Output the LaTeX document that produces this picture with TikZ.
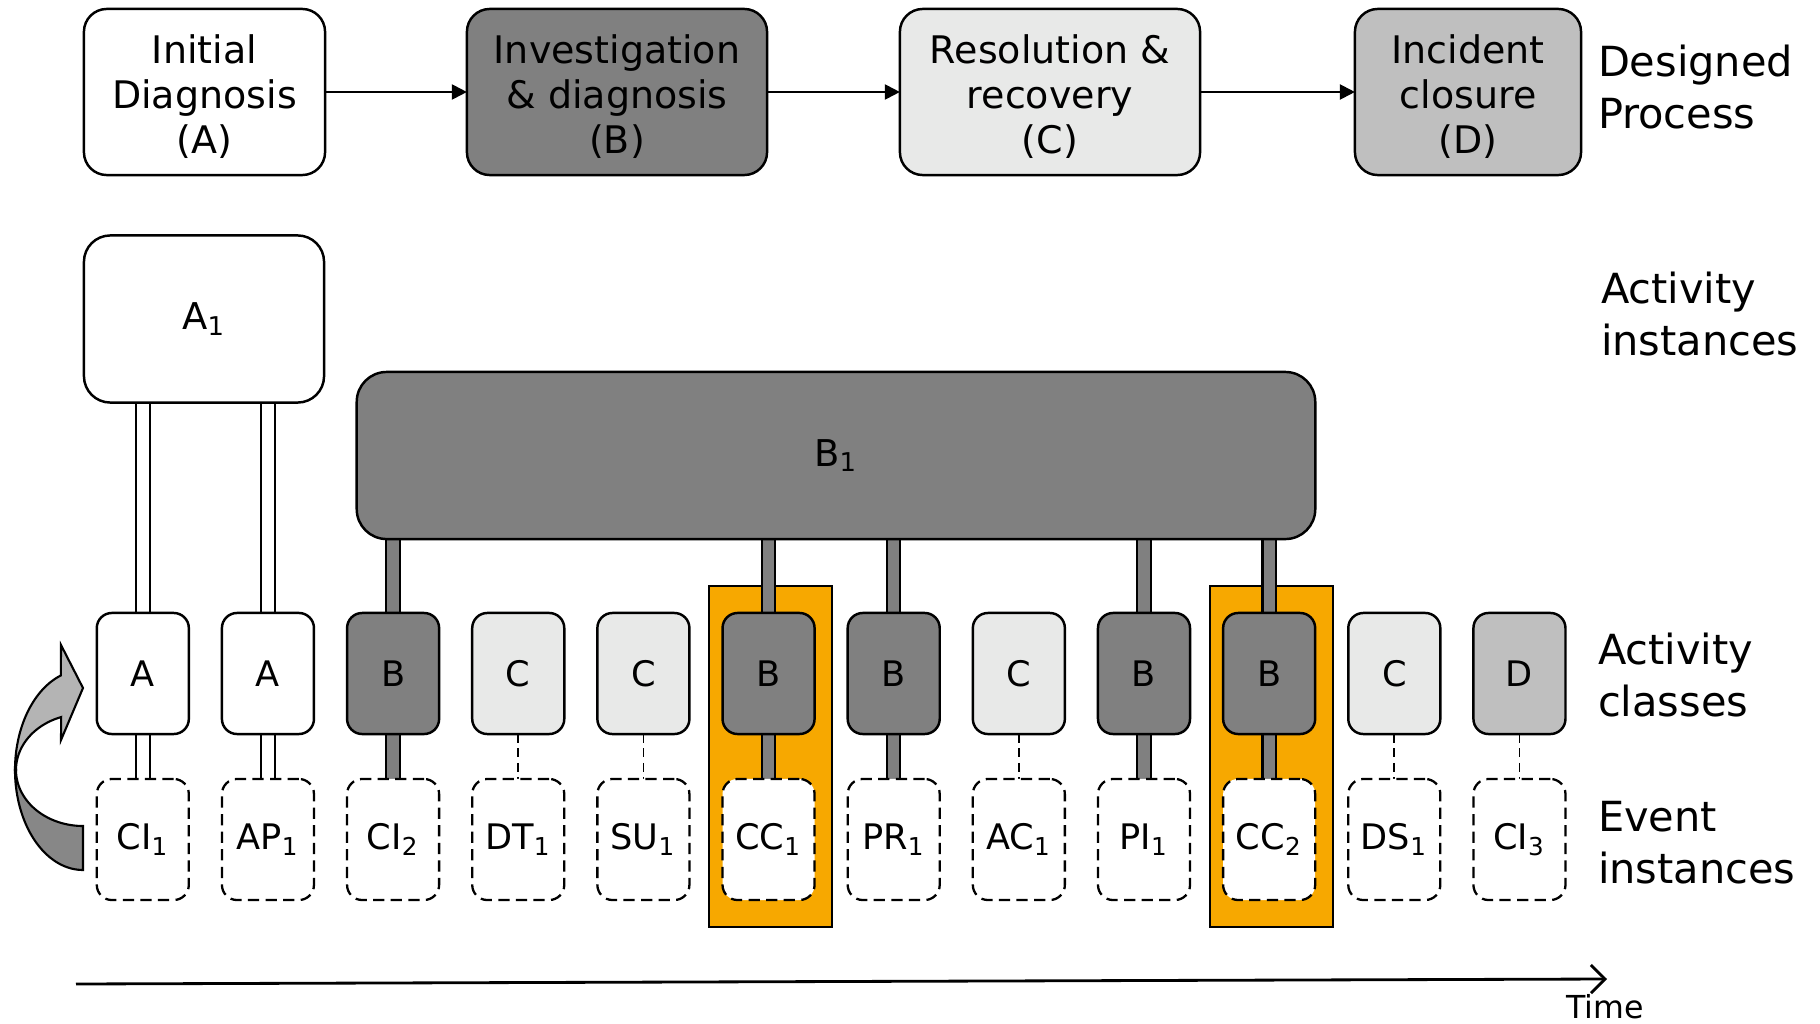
\documentclass[tikz,border=0pt]{standalone}
\usepackage{fontspec}
\setmainfont{DejaVu Sans}
\usetikzlibrary{arrows.meta}
\definecolor{bgray}{RGB}{128,128,128}
\definecolor{cgray}{RGB}{232,233,232}
\definecolor{dgray}{RGB}{191,191,191}
\definecolor{orng}{RGB}{247,168,0}
\definecolor{arrlight}{RGB}{180,180,180}
\definecolor{arrdark}{RGB}{135,135,135}
\pgfdeclarelayer{bottom}
\pgfdeclarelayer{background}
\pgfsetlayers{bottom,background,main}
\newcommand{\topstrut}{\rule{0pt}{11pt}}
\tikzset{
 every node/.style={inner sep=0pt, outer sep=0pt},
 box/.style={draw=black, line width=0.7pt, align=center},
 topbox/.style={box, rounded corners=6.5pt, minimum height=1.66cm, font=\fontsize{10.8}{12.8}\selectfont},
 instbox/.style={box, rounded corners=7.5pt, minimum height=1.67cm, font=\fontsize{10.5}{12.6}\selectfont},
 clsbox/.style={box, rounded corners=4.3pt, minimum width=0.92cm, minimum height=1.21cm, font=\fontsize{10}{12}\selectfont},
 evtbox/.style={clsbox, fill=white, dash pattern=on 3.2pt off 1.8pt, line width=0.65pt},
 flow/.style={line width=0.6pt, -{Triangle[length=4.3pt,width=4.3pt]}},
 dblA/.style={draw=black, line width=0.55pt, double=white, double distance=3.5pt},
 barB/.style={draw=black, line width=0.6pt, double=bgray, double distance=3.2pt},
 dashc/.style={line width=0.5pt, dash pattern=on 2.5pt off 1.6pt},
 side/.style={anchor=west, align=left, font=\fontsize{11.8}{14.8}\selectfont},
 hl/.style={draw=black, line width=0.6pt, fill=orng, minimum width=1.23cm, minimum height=3.41cm},
}
\begin{document}
\begin{tikzpicture}[x=0.01cm,y=-0.01cm]
\useasboundingbox (0,0) rectangle (1820,1024);

% designed process
\node[topbox, fill=white, minimum width=2.41cm] (tA) at (204.5,92) {\topstrut Initial\\Diagnosis\\(A)};
\node[topbox, fill=bgray, minimum width=3.00cm] (tB) at (617,92) {\topstrut Investigation\\\& diagnosis\\(B)};
\node[topbox, fill=cgray, minimum width=3.00cm] (tC) at (1050,92) {\topstrut Resolution \&\\recovery\\(C)};
\node[topbox, fill=dgray, minimum width=2.26cm] (tD) at (1468,92) {\topstrut Incident\\closure\\(D)};
\draw[flow] (tA) -- (tB);
\draw[flow] (tB) -- (tC);
\draw[flow] (tC) -- (tD);

% activity instances
\node[instbox, fill=white, minimum width=2.40cm, rounded corners=7.5pt] (A1) at (204,319) {A\textsubscript{1}};
\node[instbox, fill=bgray, minimum width=9.58cm, rounded corners=8.5pt] (B1) at (836,455.5) {B\textsubscript{1}};

% activity classes and event instances
\foreach \i/\l/\f/\e in {0/A/white/CI\textsubscript{1}, 1/A/white/AP\textsubscript{1}, 2/B/bgray/CI\textsubscript{2}, 3/C/cgray/DT\textsubscript{1}, 4/C/cgray/SU\textsubscript{1}, 5/B/bgray/CC\textsubscript{1}, 6/B/bgray/PR\textsubscript{1}, 7/C/cgray/AC\textsubscript{1}, 8/B/bgray/PI\textsubscript{1}, 9/B/bgray/CC\textsubscript{2}, 10/C/cgray/DS\textsubscript{1}, 11/D/dgray/CI\textsubscript{3}}
{
 \node[clsbox, fill=\f] (c\i) at ({142.8+125.15*\i},673.5) {\l};
 \node[evtbox] (e\i) at ({142.8+125.15*\i},839.5) {\e};
}

% highlights
\begin{pgfonlayer}{bottom}
\node[hl] (hl1) at (770.3,756.5) {};
\node[hl] (hl2) at (1271.5,756.5) {};
\end{pgfonlayer}

% connectors
\begin{pgfonlayer}{background}
\foreach \i in {0,1} {
 \draw[dblA] (c\i.north) -- (c\i.north |- A1.south);
 \draw[dblA] (c\i.south) -- (e\i.north);
}
\foreach \i in {2,5,6,8,9} {
 \draw[barB] (c\i.north) -- (c\i.north |- B1.south);
 \draw[barB] (c\i.south) -- (e\i.north);
}
\foreach \i in {3,4,7,10,11} {
 \draw[dashc] (c\i.south) -- (e\i.north);
}
\end{pgfonlayer}

% curved arrow
\filldraw[fill=arrdark, draw=black, line width=0.6pt]
 plot[domain=180:270, samples=40, variable=\t] ({83+68*cos(\t)},{770-100*sin(\t)})
 -- plot[domain=270:180, samples=40, variable=\t] ({83+67*cos(\t)},{770-56*sin(\t)}) -- cycle;
\filldraw[fill=arrlight, draw=black, line width=0.6pt, line join=miter]
 plot[domain=180:109, samples=40, variable=\t] ({83+68*cos(\t)},{770-100*sin(\t)})
 -- (61,645) -- (83,688) -- (61,740)
 -- plot[domain=109:180, samples=40, variable=\t] ({83+67*cos(\t)},{770-56*sin(\t)}) -- cycle;

% side labels
\node[side] (lDP) at (1598,87) {Designed\\Process};
\node[side] (lAI) at (1601,314) {Activity\\instances};
\node[side] (lAC) at (1598,675) {Activity\\classes};
\node[side] (lEI) at (1598,843) {Event\\instances};

% time axis
\coordinate (t0) at (76,984);
\coordinate (t1) at (1607,979);
\draw[line width=0.8pt, -{Straight Barb[length=4pt,width=8pt]}] (t0) -- (t1);
\node[font=\fontsize{9}{11}\selectfont] (time) at (1605,1007) {Time};
\end{tikzpicture}
\end{document}
